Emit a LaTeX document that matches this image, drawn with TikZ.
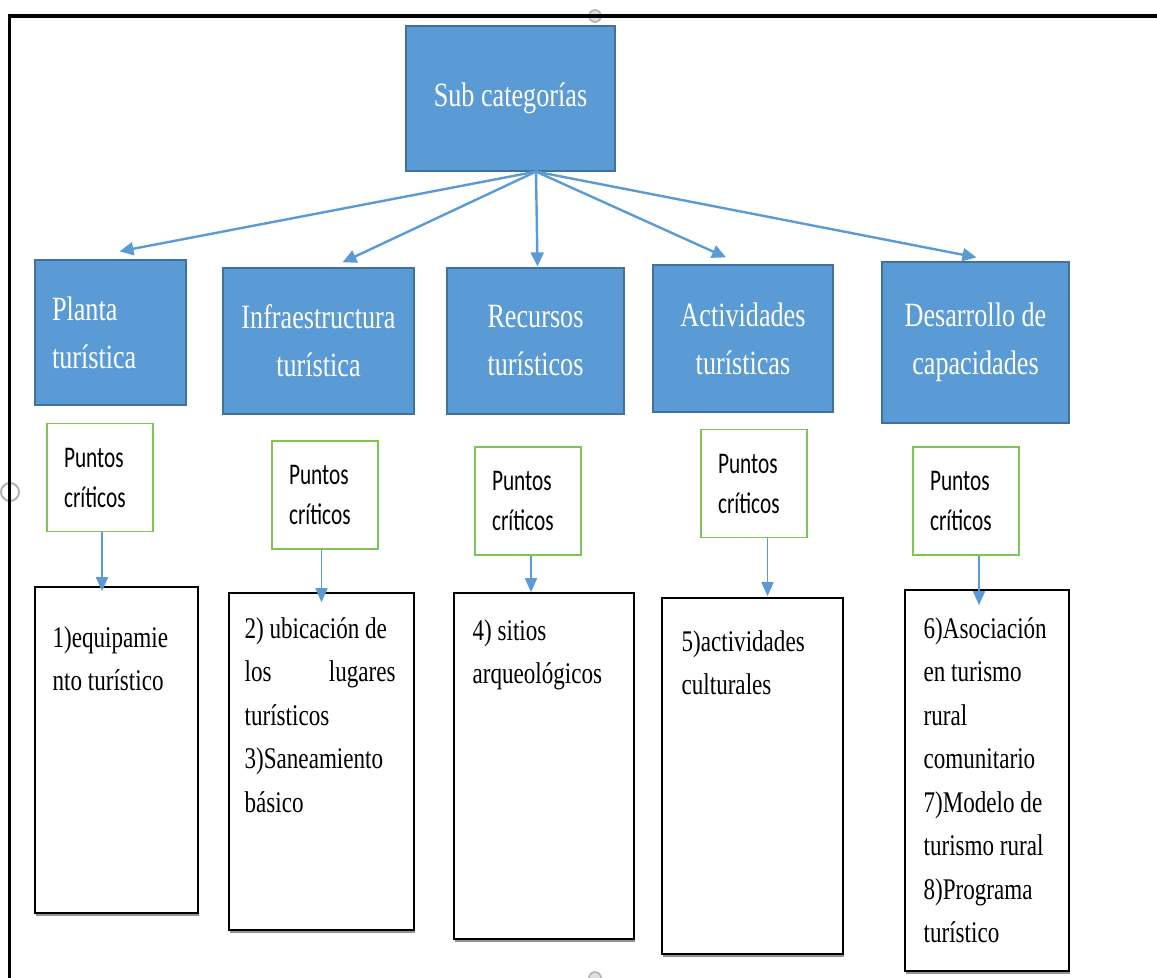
\documentclass[tikz,border=0pt]{standalone}
\usepackage{fontspec}
\setmainfont{Liberation Serif}[FakeStretch=0.77]
\newfontfamily\calibri{Carlito}[FakeStretch=0.71]
\usepackage{xcolor}
\usepackage{tikz}
\usetikzlibrary{calc,arrows.meta,positioning,shadows}
\definecolor{boxBlue}{RGB}{91,155,213}
\definecolor{boxEdge}{RGB}{65,113,156}
\definecolor{pcGreen}{RGB}{130,195,85}
\definecolor{arrBlue}{RGB}{91,155,213}
\newcommand{\bluefont}{\fontsize{17}{24}\selectfont}
\newcommand{\detfont}{\fontsize{15}{21.75}\selectfont}
\newcommand{\pcfont}{\calibri\fontsize{15}{20}\selectfont}

\begin{document}
\begin{tikzpicture}[x=0.5pt,y=-0.5pt,
  catbox/.style={draw=boxEdge, line width=0.6pt, fill=boxBlue, text=white, font=\bluefont, align=center, inner sep=2pt},
  pcbox/.style={draw=pcGreen, line width=0.9pt, fill=white, font=\pcfont, align=flush left, text width=36pt, inner xsep=8.5pt, minimum height=54pt},
  detbox/.style={draw=black, line width=0.8pt, fill=white, inner sep=0pt, drop shadow={shadow xshift=0.3pt, shadow yshift=-1.3pt, fill=black!70, opacity=0.6}},
  dettext/.style={font=\detfont, align=flush left, text width=76pt, inner sep=0pt},
  toparr/.style={draw=arrBlue, line width=1.2pt, -{Triangle[length=7pt,width=6.5pt]}},
  pcarr/.style={draw=arrBlue, line width=0.8pt, -{Triangle[length=7pt,width=6pt]}}]
\useasboundingbox (0,0) rectangle (1157,978);

% selection handles and frame
\draw[gray!60, fill=gray!25, line width=0.8pt] (595,16) circle (6);
\draw[gray!60, fill=white, line width=1pt] (10,492) circle (9);
\draw[gray!60, fill=gray!25, line width=0.8pt] (595,978) circle (6);
\draw[line width=1.6pt, line join=miter] (9.5,978) -- (9.5,16) -- (1157,16);

% categories
\node[catbox, minimum width=104.5pt, minimum height=72.5pt] (sub) at (510.5,98.5) {Sub categorías};
\node[catbox, align=flush left, text width=58.5pt, inner xsep=8.5pt, minimum height=72.5pt] (planta) at (110.5,332.5) {Planta\\turística};
\node[catbox, minimum width=95.5pt, minimum height=73pt] (infra) at (318.5,341) {Infraestructura\\turística};
\node[catbox, minimum width=88.5pt, minimum height=73pt] (recursos) at (535.5,341) {Recursos\\turísticos};
\node[catbox, minimum width=90pt, minimum height=73.5pt] (activ) at (743,338.5) {Actividades\\turísticas};
\node[catbox, minimum width=93.5pt, minimum height=80.5pt] (desarr) at (975.5,342.5) {Desarrollo de\\capacidades};

\foreach \b/\dx/\dy in {planta/4.5/4, infra/12/2.5, recursos/1/0.5, activ/-8.5/3.5, desarr/0.5/2}
  \draw[toparr] ($(sub.south)+(12.75pt,0)$) -- ($(\b.north)+(\dx pt,\dy pt)$);

% puntos criticos
\node[pcbox] (pc1) at (100,477.5) {Puntos\\críticos};
\node[pcbox] (pc2) at (325,495) {Puntos\\críticos};
\node[pcbox] (pc3) at (528,501) {Puntos\\críticos};
\node[pcbox] (pc4) at (754,483.5) {Puntos\\críticos};
\node[pcbox] (pc5) at (966,501) {Puntos\\críticos};

% detalle
\node[detbox, minimum width=81.5pt, minimum height=163pt] (det1) at (116.5,750) {};
\node[detbox, minimum width=92.5pt, minimum height=168.5pt] (det2) at (321.5,761.5) {};
\node[detbox, minimum width=90pt, minimum height=173pt] (det3) at (544,766) {};
\node[detbox, minimum width=90.5pt, minimum height=178pt] (det4) at (752.5,776) {};
\node[detbox, minimum width=82pt, minimum height=190.5pt] (det5) at (987,780.5) {};

\node[dettext, below right=20pt and 9pt of det1.north west] (txt1) {1)equipamie\\nto turístico};
\node[dettext, text width=75.5pt, below right=12.5pt and 8pt of det2.north west] (txt2) {2) ubicación de\\los\hfill lugares\\turísticos\\3)Saneamiento\\básico};
\node[dettext, below right=13.5pt and 9.5pt of det3.north west] (txt3) {4) sitios\\arqueológicos};
\node[dettext, below right=16.5pt and 10pt of det4.north west] (txt4) {5)actividades\\culturales};
\node[dettext, below right=14pt and 9.5pt of det5.north west] (txt5) {6)Asociación\\en turismo\\rural\\comunitario\\7)Modelo de\\turismo rural\\8)Programa\\turístico};

\foreach \i/\dx/\ext in {1/1/2.5, 2/-1.75/5, 3/1.5/0, 4/6.75/-0.5, 5/6.5/8}
  \draw[pcarr] ($(pc\i.south)+(\dx pt,0)$) -- ($(pc\i.south |- det\i.north)+(\dx pt,-\ext pt)$);
\end{tikzpicture}
\end{document}
